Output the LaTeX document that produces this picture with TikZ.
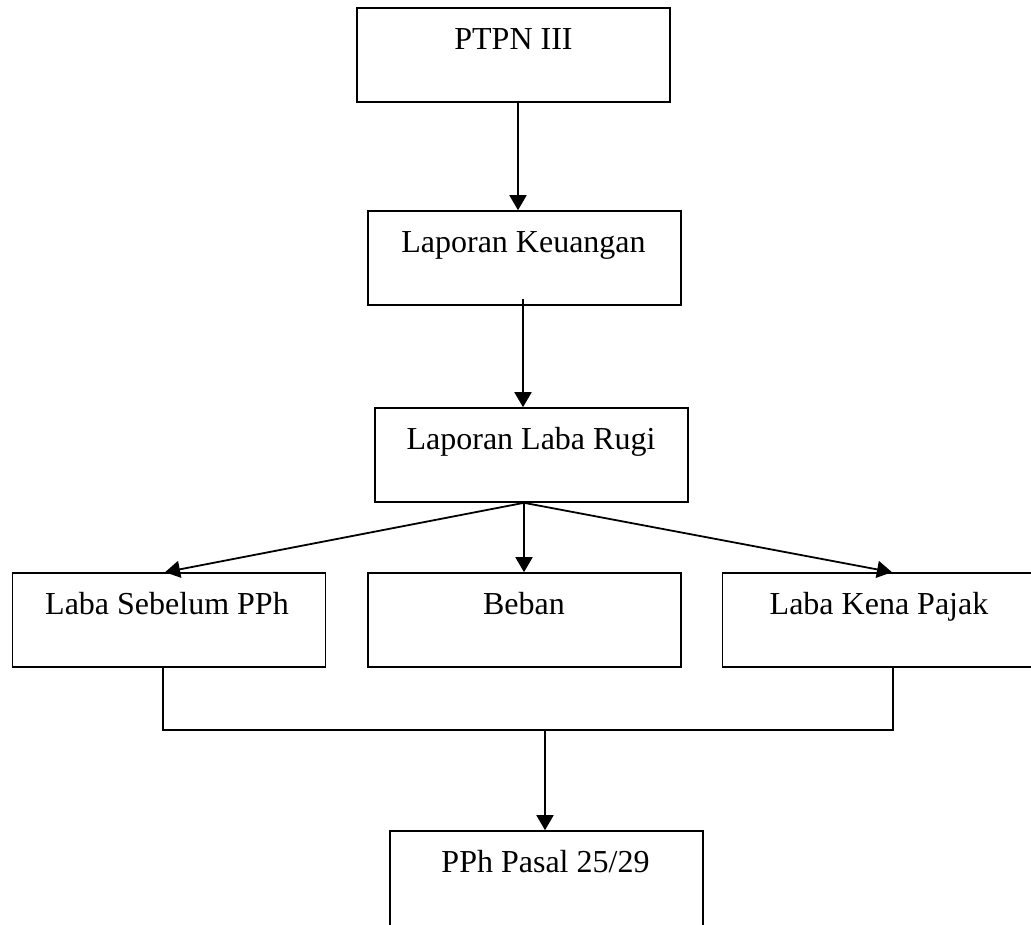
\documentclass[tikz,border=0pt]{standalone}
\usepackage{fontspec}
\setmainfont{Liberation Serif}
\usetikzlibrary{arrows.meta}
\tikzset{
  box/.style={draw=black, line width=1.6pt, rectangle, minimum width=313pt, minimum height=94pt, inner sep=0pt},
  lbl/.style={anchor=base, inner sep=0pt, font=\fontsize{32}{38}\selectfont},
  conn/.style={draw=black, line width=1.8pt},
  arr/.style={conn, -{Triangle[length=15pt, width=17pt]}}
}
\begin{document}
\begin{tikzpicture}[x=1pt, y=-1pt]
\useasboundingbox (0,0) rectangle (1031,924);
\fill[white] (0,0) rectangle (1031,924);
\clip (0,0) rectangle (1031,924);
% boxes
\node[box] (ptpn)  at (513.5,55)  {};
\node[box] (lk)    at (524.5,258) {};
\node[box] (llr)   at (531.5,455) {};
\node[box] (lsp)   at (169,620)   {};
\node[box] (beban) at (524.5,620) {};
\node[box] (lkp)   at (879,620)   {};
\node[box, minimum height=100pt] (pph) at (546.5,881) {};
% labels
\node[lbl] (tptpn)  at (513.5,49)  {PTPN III};
\node[lbl] (tlk)    at (523.5,252) {Laporan Keuangan};
\node[lbl] (tllr)   at (531,449)   {Laporan Laba Rugi};
\node[lbl] (tlsp)   at (167,614)   {Laba Sebelum PPh};
\node[lbl] (tbeban) at (524,614)   {Beban};
\node[lbl] (tlkp)   at (879,614)   {Laba Kena Pajak};
\node[lbl] (tpph)   at (545.5,872) {PPh Pasal 25/29};
% connectors
\draw[arr] ([xshift=4.5pt]ptpn.south) -- ([xshift=-6.5pt]lk.north);
\draw[arr] ([xshift=-1.5pt,yshift=7pt]lk.south) -- ([xshift=-8.5pt]llr.north);
\coordinate (fan) at ([xshift=-7.5pt]llr.south);
\draw[arr] (fan) -- ([xshift=-4pt]lsp.north);
\draw[arr] (fan) -- ([xshift=-0.5pt]beban.north);
\draw[arr] (fan) -- ([xshift=13pt]lkp.north);
\coordinate (jl) at (163,730);
\coordinate (jr) at (893,730);
\coordinate (jm) at (545,730);
\draw[conn] ([xshift=-6pt]lsp.south) -- (jl) -- (jr) -- ([xshift=14pt]lkp.south);
\draw[arr] (jm) -- ([xshift=-1.5pt]pph.north);
\end{tikzpicture}
\end{document}
